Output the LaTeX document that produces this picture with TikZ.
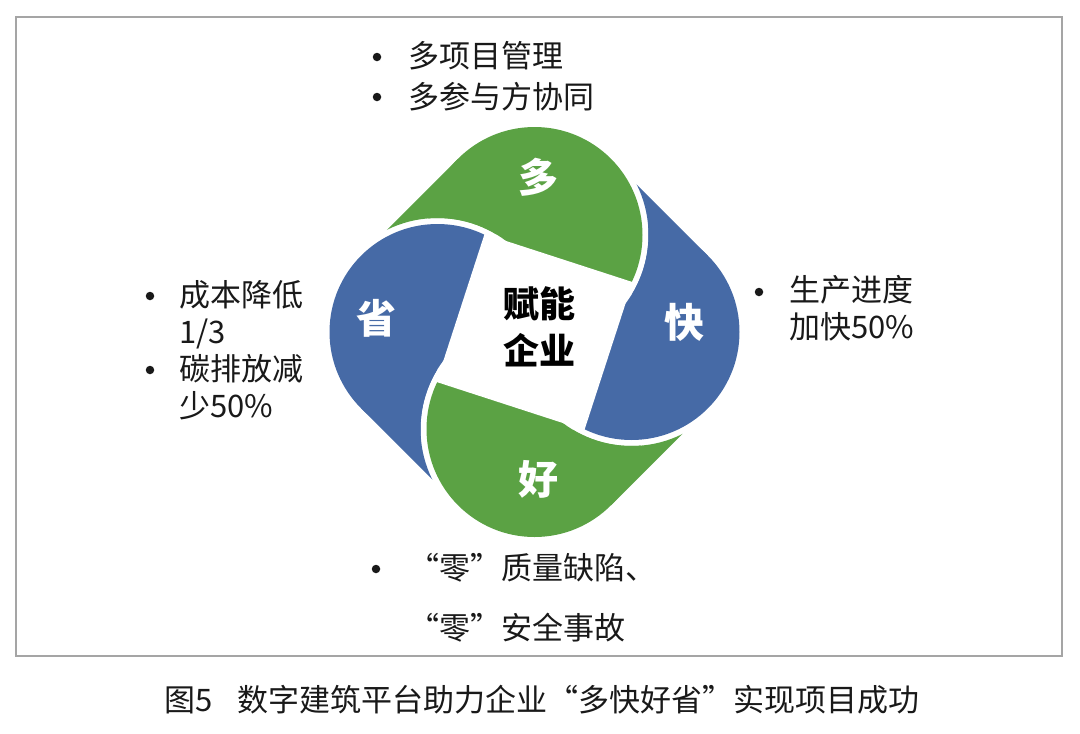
\documentclass[tikz,border=0pt]{standalone}
\usepackage{fontspec}
\setmainfont{Noto Sans CJK SC}
\definecolor{pgreen}{RGB}{91,162,68}
\definecolor{pblue}{RGB}{70,106,166}
\definecolor{framegray}{RGB}{165,165,165}
\definecolor{txt}{RGB}{25,25,25}
\newcommand{\drawpetal}[3]{%
  \begin{scope}[rotate=#1]
    \begin{scope}
      \clip (-330,-330) -- (-330,330) -- (330,330) -- (330,-330) -- cycle
            (17,0) arc[start angle=0,end angle=360,radius=114];
      \fill[#2] (0,97) circle[radius=108];
      \fill[#2] (-76.37,173.37) -- (-189.51,60.23) -- (-49.94,98.01) -- (0,97) -- cycle;
    \end{scope}
    \path (0,97) coordinate (#3);
  \end{scope}}
\begin{document}
\begin{tikzpicture}[x=1pt,y=1pt,yscale=-1,
  bul/.style={circle, fill=txt, minimum size=8.5pt, inner sep=0pt},
  btxt/.style={font=\fontsize{31}{37}\selectfont, text=txt, anchor=west, align=left, inner sep=0pt},
  plabel/.style={font=\bfseries\fontsize{40}{40}\selectfont, text=white, inner sep=0pt},
  frame/.style={draw=framegray, line width=1.5pt}]
\useasboundingbox (0,0) rectangle (1080,734);
\node[frame, minimum width=1046pt, minimum height=639pt, inner sep=0pt] (fr) at (539,336.5) {};
% pinwheel
\begin{scope}[shift={(534.5,332)}, yscale=-1]
  \drawpetal{0}{pgreen}{cg}
  \drawpetal{90}{pblue}{cb1}
  \drawpetal{180}{pgreen}{cg2}
  \drawpetal{270}{pblue}{cb2}
  \fill[white] (98.01,49.94) -- (-49.94,98.01) -- (-98.01,-49.94) -- (49.94,-98.01) -- cycle;
\end{scope}
\node[plabel] (duo) at (538,177) {多};
\node[plabel] (kuai) at (684,322) {快};
\node[plabel] (hao) at (538,479) {好};
\node[plabel] (sheng) at (376,318) {省};
\node[font=\bfseries\fontsize{36}{47}\selectfont, text=black, align=center, inner sep=0pt] (center) at (539,327) {赋能\\企业};
% top bullets
\node[bul] (b1) at (377,57) {};
\node[btxt] (t1) at (408,56) {多项目管理};
\node[bul] (b2) at (377,97) {};
\node[btxt] (t2) at (408,97) {多参与方协同};
% left bullets
\node[bul] (b3) at (150,296) {};
\node[bul] (b4) at (150,370) {};
\node[btxt, anchor=north west] (t3) at (179,280) {成本降低\\1/3\\碳排放减\\少50\%};
% right bullets
\node[bul] (b5) at (759,292) {};
\node[btxt, anchor=north west] (t5) at (789,275) {生产进度\\加快50\%};
% bottom bullets
\node[bul] (b6) at (376,569) {};
\node[btxt] (t6) at (408,568) {“零”质量缺陷、};
\node[btxt] (t7) at (408,628) {“零”安全事故};
% caption
\node[font=\fontsize{31}{36}\selectfont, text=txt, inner sep=0pt] (cap) at (542,700) {图5\hspace{24pt}数字建筑平台助力企业“多快好省”实现项目成功};
\end{tikzpicture}
\end{document}
